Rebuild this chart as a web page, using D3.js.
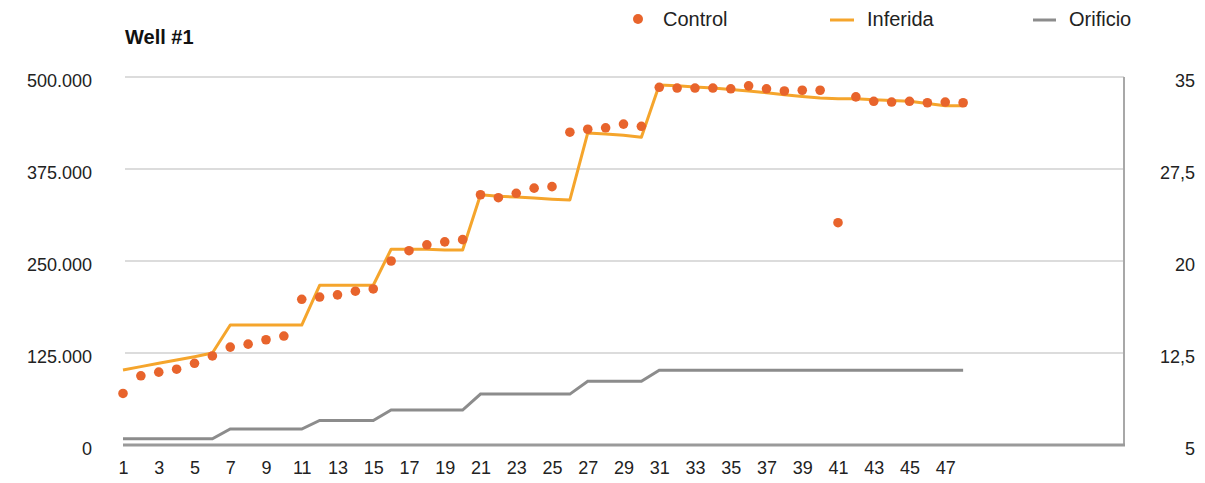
<!DOCTYPE html>
<html>
<head>
<meta charset="utf-8">
<script src="https://cdn.jsdelivr.net/npm/d3@7"></script>
<style>
  html, body { margin: 0; padding: 0; background: #fff; }
  svg { display: block; font-family: "Liberation Sans", Arial, sans-serif; }
</style>
</head>
<body>
<svg id="chart" width="1205" height="483"></svg>
<script>
const periods = d3.range(1, 49);
const tickLabels = [1,3,5,7,9,11,13,15,17,19,21,23,25,27,29,31,33,35,37,39,41,43,45,47];
const leftTicks = [0, 125000, 250000, 375000, 500000];
const rightTicks = [5, 12.5, 20, 27.5, 35];

const control = [
  70000, 94000, 99000, 103000, 111000, 121000, 133000, 137000, 143000, 148000,
  198000, 201000, 204000, 209000, 212000, 250000, 264000, 272000, 276000, 279000,
  340000, 336000, 342000, 349000, 351000, 425000, 429000, 431000, 436000, 433000,
  486000, 485000, 485000, 485000, 484000, 488000, 484000, 481000, 482000, 482000,
  302000, 473000, 467000, 466000, 467000, 465000, 466000, 465000
];
const inferida = [
  102000, 106500, 111000, 115500, 120000, 125000, 163000, 163000, 163000, 163000,
  163000, 217000, 217000, 217000, 217000, 266000, 266000, 266000, 265000, 265000,
  340000, 338000, 337000, 335500, 334000, 333000, 424000, 422500, 421000, 418000,
  489000, 488000, 486500, 485000, 483000, 481000, 478500, 476000, 473500, 471500,
  470500, 470500, 469000, 468000, 467000, 464000, 461000, 461000
];
const orificio = [
  5.5, 5.5, 5.5, 5.5, 5.5, 5.5, 6.3, 6.3, 6.3, 6.3,
  6.3, 7.0, 7.0, 7.0, 7.0, 7.85, 7.85, 7.85, 7.85, 7.85,
  9.15, 9.15, 9.15, 9.15, 9.15, 9.15, 10.2, 10.2, 10.2, 10.2,
  11.1, 11.1, 11.1, 11.1, 11.1, 11.1, 11.1, 11.1, 11.1, 11.1,
  11.1, 11.1, 11.1, 11.1, 11.1, 11.1, 11.1, 11.1
];

const svg = d3.select("#chart");
const plotLeft = 123, plotRight = 1124, plotTop = 77, plotBottom = 445;

const x = d3.scaleLinear().domain([1, 57]).range([plotLeft, plotRight]);
const yL = d3.scaleLinear().domain([0, 500000]).range([plotBottom, plotTop]);
const yR = d3.scaleLinear().domain([5, 35]).range([plotBottom, plotTop]);

// gridlines
svg.append("g").selectAll("line").data(leftTicks.slice(1)).join("line")
  .attr("x1", plotLeft + 2).attr("x2", plotRight)
  .attr("y1", d => yL(d)).attr("y2", d => yL(d))
  .attr("stroke", "#dcdcdc").attr("stroke-width", 2);

// right axis line
svg.append("line")
  .attr("x1", plotRight).attr("x2", plotRight)
  .attr("y1", plotTop).attr("y2", plotBottom)
  .attr("stroke", "#a8a8a8").attr("stroke-width", 2);

// bottom axis line
svg.append("line")
  .attr("x1", plotLeft).attr("x2", plotRight + 1)
  .attr("y1", plotBottom).attr("y2", plotBottom)
  .attr("stroke", "#9a9a9a").attr("stroke-width", 3);

const axisFont = "Liberation Sans, Arial, sans-serif";

// left axis labels
const fmtL = d => d3.format(",")(d).replace(/,/g, ".");
const gl = svg.append("g").attr("transform", `translate(${plotLeft - 31},0)`)
  .call(d3.axisLeft(yL).tickValues(leftTicks).tickFormat(fmtL).tickSize(0).tickPadding(0));
gl.select(".domain").remove();
gl.selectAll("text").attr("font-size", 18).attr("fill", "#222")
  .attr("font-family", axisFont).attr("dy", "0.55em");

// right axis labels
const fmtR = d => String(d).replace(".", ",");
const gr = svg.append("g").attr("transform", `translate(1195,0)`)
  .call(d3.axisLeft(yR).tickValues(rightTicks).tickFormat(fmtR).tickSize(0).tickPadding(0));
gr.select(".domain").remove();
gr.selectAll("text").attr("font-size", 18).attr("fill", "#222")
  .attr("font-family", axisFont).attr("dy", "0.55em");

// bottom axis labels
const gb = svg.append("g").attr("transform", `translate(0,${plotBottom})`)
  .call(d3.axisBottom(x).tickValues(tickLabels).tickFormat(d3.format("d")).tickSize(0).tickPadding(16));
gb.select(".domain").remove();
gb.selectAll("text").attr("font-size", 18).attr("fill", "#222")
  .attr("font-family", axisFont);

// Orificio line
svg.append("path").datum(orificio)
  .attr("fill", "none").attr("stroke", "#8c8c8c").attr("stroke-width", 3)
  .attr("d", d3.line().x((d, i) => x(periods[i])).y(d => yR(d)));

// Inferida line
svg.append("path").datum(inferida)
  .attr("fill", "none").attr("stroke", "#f5a52c").attr("stroke-width", 3)
  .attr("stroke-linejoin", "round")
  .attr("d", d3.line().x((d, i) => x(periods[i])).y(d => yL(d)));

// Control dots
svg.append("g").selectAll("circle").data(control).join("circle")
  .attr("cx", (d, i) => x(periods[i])).attr("cy", d => yL(d))
  .attr("r", 4.8).attr("fill", "#e8642c");

// Title
svg.append("text").attr("x", 125).attr("y", 44)
  .attr("font-size", 20).attr("font-weight", "bold").attr("fill", "#111")
  .text("Well #1");

// Legend
const lg = svg.append("g");
lg.append("circle").attr("cx", 638).attr("cy", 19).attr("r", 5).attr("fill", "#e8642c");
lg.append("text").attr("x", 663).attr("y", 26).attr("font-size", 20).attr("fill", "#222").text("Control");
lg.append("line").attr("x1", 830).attr("x2", 854).attr("y1", 20).attr("y2", 20)
  .attr("stroke", "#f5a52c").attr("stroke-width", 3);
lg.append("text").attr("x", 867).attr("y", 26).attr("font-size", 20).attr("fill", "#222").text("Inferida");
lg.append("line").attr("x1", 1033).attr("x2", 1056).attr("y1", 20).attr("y2", 20)
  .attr("stroke", "#8c8c8c").attr("stroke-width", 3);
lg.append("text").attr("x", 1069).attr("y", 26).attr("font-size", 20).attr("fill", "#222").text("Orificio");
</script>
</body>
</html>
